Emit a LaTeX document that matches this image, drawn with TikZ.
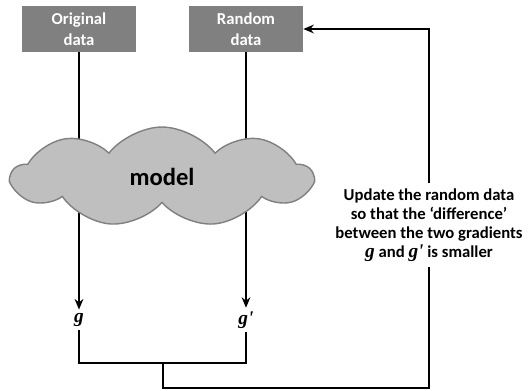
\documentclass[tikz,border=0pt]{standalone}
\usepackage{fontspec}
\setmainfont{Carlito}
\newfontfamily\gradfont{Liberation Serif}
\newcommand{\gvar}[1]{{\gradfont\bfseries\itshape #1}}
\usetikzlibrary{positioning, shapes.symbols, arrows.meta}

\begin{document}
\begin{tikzpicture}[x=0.02cm, y=-0.02cm,
  font=\fontsize{9.5}{10.8}\selectfont\bfseries,
  databox/.style={fill=gray, text=white, minimum width=2.28cm, minimum height=0.92cm, align=center, inner sep=1pt, font=\fontsize{9.5}{11.8}\selectfont\bfseries},
  grad/.style={font=\fontsize{11}{12}\selectfont, inner sep=2pt},
  modelcloud/.style={cloud, cloud puffs=9, cloud puff arc=105, aspect=3, fill=gray!50, draw=gray, thick, minimum width=6cm, minimum height=2cm, font=\fontsize{14}{16}\selectfont\bfseries},
  line/.style={thick, black},
  arr/.style={line, -{Stealth[length=6pt, width=5pt]}}]
  \useasboundingbox (0,0) rectangle (532,390);

  \node[databox] (orig) at (79,29) {Original\\data};
  \node[databox] (rand) at (246,29) {Random\\data};

  \node[grad] (g) at (79,320) {\gvar{g}};
  \node[grad] (gp) at (246,320) {\gvar{g'}};

  \node[align=center, inner sep=3pt] (upd) at (429,225) {Update the random data\\so that the `difference'\\between the two gradients\\{\fontsize{11}{10.8}\selectfont\gvar{g}} and {\fontsize{11}{10.8}\selectfont\gvar{g'}} is smaller};

  \coordinate (join) at (163,363);
  \coordinate (low) at (163,388);

  \draw[arr] (orig) -- (g);
  \draw[arr] (rand) -- (gp);

  % the model sits on top of the two arrows
  \node[modelcloud] (model) at (162,177) {model};

  \draw[line] (g) -- (g |- join) -- (gp |- join) -- (gp);
  \draw[line] (join) -- (low) -| (upd.south);
  \draw[arr] (upd.north) |- (rand.east);
\end{tikzpicture}
\end{document}
